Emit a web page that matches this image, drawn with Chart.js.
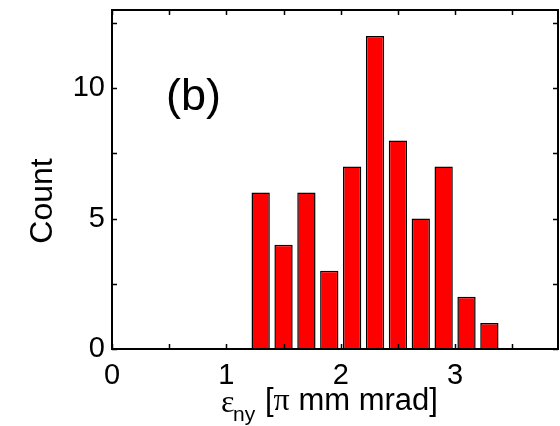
<!DOCTYPE html>
<html>
<head>
<meta charset="utf-8">
<script src="https://cdn.jsdelivr.net/npm/chart.js@4/dist/chart.umd.min.js"></script>
<style>
  html, body { margin: 0; padding: 0; background: #fff; }
  canvas { display: block; }
</style>
</head>
<body>
<canvas id="c" width="560" height="426"></canvas>
<script>
// Histogram of normalized vertical emittance
const binCenters = [1.3, 1.5, 1.7, 1.9, 2.1, 2.3, 2.5, 2.7, 2.9, 3.1, 3.3];
const counts     = [6, 4, 6, 3, 7, 12, 8, 5, 7, 2, 1];

const xTickValues = [0, 0.5, 1, 1.5, 2, 2.5, 3, 3.5];
const xTickLabels = ['0', '1', '2', '3'];
const yTickValues = [0, 2.5, 5, 7.5, 10, 12.5];
const yTickLabels = ['0', '5', '10'];

const SANS = '"Liberation Sans", Arial, sans-serif';
const SERIF = '"Liberation Serif", "Times New Roman", serif';

// Box frame with inward ticks on all four sides, plus axis titles and panel tag
const framePlugin = {
  id: 'frame',
  afterDraw(chart) {
    const { ctx, chartArea: a, scales } = chart;
    ctx.save();
    ctx.strokeStyle = '#000';
    ctx.lineWidth = 2;
    ctx.strokeRect(a.left, a.top, a.right - a.left, a.bottom - a.top);

    ctx.lineWidth = 1.5;
    const tl = 5;
    ctx.beginPath();
    xTickValues.forEach(v => {
      const px = Math.round(scales.x.getPixelForValue(v)) + 0.5;
      ctx.moveTo(px, a.bottom); ctx.lineTo(px, a.bottom - tl);
      ctx.moveTo(px, a.top);    ctx.lineTo(px, a.top + tl);
    });
    yTickValues.forEach(v => {
      const py = Math.round(scales.y.getPixelForValue(v)) + 0.5;
      ctx.moveTo(a.left, py);  ctx.lineTo(a.left + tl, py);
      ctx.moveTo(a.right, py); ctx.lineTo(a.right - tl, py);
    });
    ctx.stroke();

    ctx.fillStyle = '#000';
    ctx.textBaseline = 'alphabetic';

    // y title
    ctx.save();
    ctx.translate(52, 201);
    ctx.rotate(-Math.PI / 2);
    ctx.textAlign = 'center';
    ctx.font = '32px ' + SANS;
    ctx.fillText('Count', 0, 0);
    ctx.restore();

    // x title: ε_ny [π mm mrad]
    ctx.textAlign = 'left';
    ctx.font = '32px ' + SERIF;
    ctx.fillText('ε', 221, 412);
    ctx.font = '21px ' + SANS;
    ctx.fillText('ny', 233, 421);
    let x = 265;
    ctx.font = '31px ' + SANS;
    ctx.fillText('[', x, 410);
    x += ctx.measureText('[').width;
    ctx.font = '32px ' + SERIF;
    ctx.fillText('π', x, 410);
    x += ctx.measureText('π').width;
    ctx.font = '31px ' + SANS;
    ctx.fillText(' mm mrad]', x, 410);

    // panel tag
    ctx.font = '45px ' + SANS;
    ctx.fillText('(b)', 166, 110);
    ctx.restore();
  }
};

new Chart(document.getElementById('c'), {
  type: 'bar',
  data: {
    datasets: [{
      data: binCenters.map((x, i) => ({ x: x, y: counts[i] })),
      backgroundColor: '#ff0000',
      borderColor: '#000000',
      borderWidth: 1.5,
      barPercentage: 0.8,
      categoryPercentage: 1.0
    }]
  },
  options: {
    responsive: false,
    animation: false,
    devicePixelRatio: 1,
    layout: { padding: { top: 10, right: 2, left: 0, bottom: 0 } },
    plugins: { legend: { display: false }, tooltip: { enabled: false } },
    scales: {
      x: {
        type: 'linear',
        offset: false,
        min: 0,
        max: 3.9,
        grid: { display: false, drawTicks: false, offset: false },
        border: { display: false },
        afterBuildTicks(s) { s.ticks = xTickValues.map(v => ({ value: v })); },
        afterFit(s) { s.height = 77; s.paddingLeft = 0; s.paddingRight = 0; },
        ticks: {
          autoSkip: false,
          maxRotation: 0,
          padding: 10,
          color: '#000',
          font: { family: SANS, size: 29 },
          callback: v => (Number.isInteger(v) ? xTickLabels[v] : '')
        }
      },
      y: {
        min: 0,
        max: 13,
        grid: { display: false, drawTicks: false },
        border: { display: false },
        afterBuildTicks(s) { s.ticks = yTickValues.map(v => ({ value: v })); },
        afterFit(s) { s.width = 112; s.paddingTop = 0; s.paddingBottom = 0; },
        ticks: {
          autoSkip: false,
          padding: 7,
          color: '#000',
          font: { family: SANS, size: 29 },
          callback: v => (v % 5 === 0 ? yTickLabels[v / 5] : '')
        }
      }
    }
  },
  plugins: [framePlugin]
});
</script>
</body>
</html>
